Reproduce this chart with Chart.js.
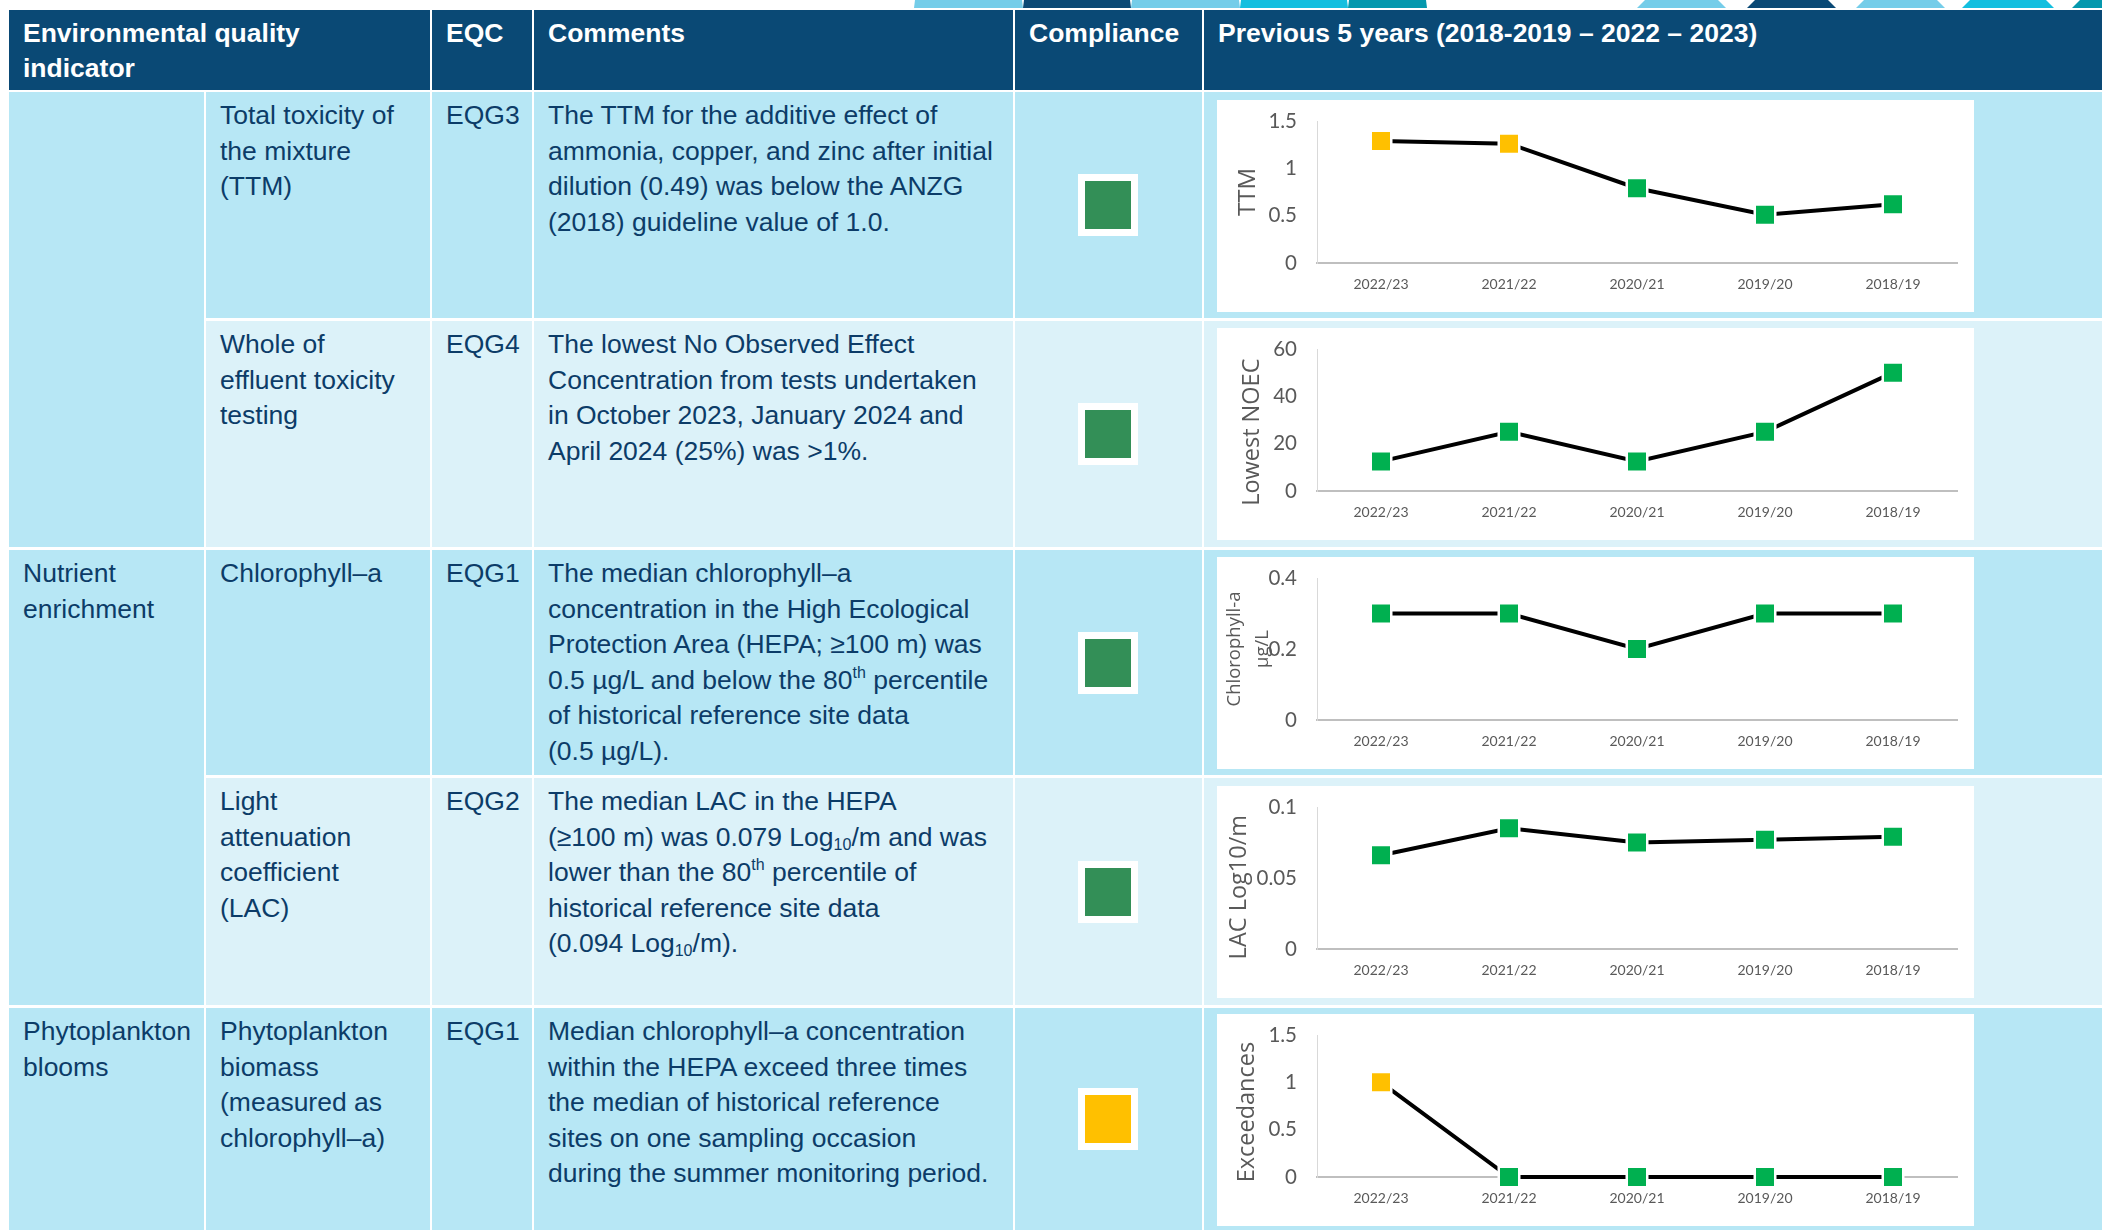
<!DOCTYPE html>
<html>
<head>
<meta charset="utf-8">
<script src="https://cdn.jsdelivr.net/npm/chart.js@4.4.1/dist/chart.umd.min.js"></script>
<style>
  body { margin: 0; background: #fff; width: 2102px; height: 1230px; overflow: hidden; position: relative; font-family: "Liberation Sans", Arial, sans-serif; }
  .deco { position: absolute; top: 0; height: 8px; }
  .cell { position: absolute; box-sizing: border-box; font-size: 26.5px; line-height: 35.5px; color: #0c3c68; white-space: nowrap; padding-top: 6px; }
  .head { background: #0a4975; color: #fff; font-weight: bold; padding-top: 6px; line-height: 35px; }
  .dark { background: #b7e7f5; }
  .light { background: #dcf2f9; }
  sup, sub { font-size: 16px; line-height: 0; }
  sup { vertical-align: 11px; }
  sub { vertical-align: -4px; }
  .mark { position: absolute; width: 60px; height: 62px; background: #fff; }
  .mark div { position: absolute; left: 7px; top: 7px; width: 46px; height: 48px; }
  .chart { position: absolute; left: 1217px; width: 757px; height: 212px; background: #fff; }
</style>
</head>
<body>
<div id="page"></div>
<script>
const years = ['2022/23', '2021/22', '2020/21', '2019/20', '2018/19']

const ttmValues = [1.29, 1.26, 0.79, 0.51, 0.62]
const ttmStatus = ['amber', 'amber', 'met', 'met', 'met']
const ttmTicks = [0, 0.5, 1, 1.5]

const noecValues = [12.5, 25, 12.5, 25, 50]
const noecStatus = ['met', 'met', 'met', 'met', 'met']
const noecTicks = [0, 20, 40, 60]

const chlaValues = [0.3, 0.3, 0.2, 0.3, 0.3]
const chlaStatus = ['met', 'met', 'met', 'met', 'met']
const chlaTicks = [0, 0.2, 0.4]

const lacValues = [0.066, 0.085, 0.075, 0.077, 0.079]
const lacStatus = ['met', 'met', 'met', 'met', 'met']
const lacTicks = [0, 0.05, 0.1]

const exceedValues = [1, 0, 0, 0, 0]
const exceedStatus = ['amber', 'met', 'met', 'met', 'met']
const exceedTicks = [0, 0.5, 1, 1.5]

const complianceStatus = ['met', 'met', 'met', 'met', 'amber']

const groups = ['', 'Nutrient<br>enrichment', 'Phytoplankton<br>blooms']
const indicators = [
  'Total toxicity of<br>the mixture<br>(TTM)',
  'Whole of<br>effluent toxicity<br>testing',
  'Chlorophyll–a',
  'Light<br>attenuation<br>coefficient<br>(LAC)',
  'Phytoplankton<br>biomass<br>(measured as<br>chlorophyll–a)'
]
const eqcs = ['EQG3', 'EQG4', 'EQG1', 'EQG2', 'EQG1']
const comments = [
  'The TTM for the additive effect of<br>ammonia, copper, and zinc after initial<br>dilution (0.49) was below the ANZG<br>(2018) guideline value of 1.0.',
  'The lowest No Observed Effect<br>Concentration from tests undertaken<br>in October 2023, January 2024 and<br>April 2024 (25%) was &gt;1%.',
  'The median chlorophyll–a<br>concentration in the High Ecological<br>Protection Area (HEPA; ≥100 m) was<br>0.5 µg/L and below the 80<sup>th</sup> percentile<br>of historical reference site data<br>(0.5 µg/L).',
  'The median LAC in the HEPA<br>(≥100 m) was 0.079 Log<sub>10</sub>/m and was<br>lower than the 80<sup>th</sup> percentile of<br>historical reference site data<br>(0.094 Log<sub>10</sub>/m).',
  'Median chlorophyll–a concentration<br>within the HEPA exceed three times<br>the median of historical reference<br>sites on one sampling occasion<br>during the summer monitoring period.'
]

const markerColour = { met: '#00b050', amber: '#ffc000' }
const boxColour = { met: '#338f57', amber: '#ffc000' }

// table geometry
const rowTop = [92, 321, 550, 778, 1008]
const rowBottom = [318, 547, 775, 1005, 1230]
const chartTop = [100, 328, 557, 786, 1014]
const cols = [[9, 204], [206, 430], [432, 532], [534, 1013], [1015, 1202], [1204, 2102]]

const page = document.getElementById('page')

function box (cls, l, t, r, b, html) {
  const d = document.createElement('div')
  d.className = cls
  d.style.left = l + 'px'
  d.style.top = t + 'px'
  d.style.width = (r - l) + 'px'
  d.style.height = (b - t) + 'px'
  if (cls.includes('cell')) d.style.paddingLeft = '14px'
  d.innerHTML = html || ''
  page.appendChild(d)
  return d
}

// strip of shapes above the header
const deco = [
  [914, 1023, '#75cde9', 1], [1023, 1131, '#0a4975', 1], [1131, 1240, '#75cde9', 1],
  [1240, 1348, '#14bfdf', 1], [1348, 1427, '#0598ad', 1],
  [1637, 1726, '#75cde9', 8], [1747, 1836, '#0a4975', 8], [1856, 1945, '#75cde9', 8],
  [1962, 2054, '#14bfdf', 8], [2072, 2110, '#0598ad', 8]
]
deco.forEach(([l, r, c, inset]) => {
  const d = box('deco', l, 0, r, 8)
  d.style.background = c
  d.style.clipPath = `polygon(${inset}px 0, calc(100% - ${inset}px) 0, 100% 100%, 0 100%)`
})

// header
box('cell head', 9, 10, 430, 90, 'Environmental quality<br>indicator')
box('cell head', 432, 10, 532, 90, 'EQC')
box('cell head', 534, 10, 1013, 90, 'Comments')
box('cell head', 1015, 10, 1202, 90, 'Compliance')
box('cell head', 1204, 10, 2102, 90, 'Previous 5 years (2018-2019 – 2022 – 2023)')

// body
const shade = ['dark', 'light', 'dark', 'light', 'dark']
box('cell dark', 9, rowTop[0], 204, rowBottom[1], groups[0])
box('cell dark', 9, rowTop[2], 204, rowBottom[3], groups[1])
box('cell dark', 9, rowTop[4], 204, rowBottom[4], groups[2])
for (let i = 0; i < 5; i++) {
  const t = rowTop[i]
  const b = rowBottom[i]
  box('cell ' + shade[i], cols[1][0], t, cols[1][1], b, indicators[i])
  box('cell ' + shade[i], cols[2][0], t, cols[2][1], b, eqcs[i])
  box('cell ' + shade[i], cols[3][0], t, cols[3][1], b, comments[i])
  box('cell ' + shade[i], cols[4][0], t, cols[4][1], b)
  box('cell ' + shade[i], cols[5][0], t, cols[5][1], b)
  const cy = Math.round((t + b) / 2)
  const m = box('mark', 1078, cy - 31, 1138, cy + 31, '<div></div>')
  m.firstChild.style.background = boxColour[complianceStatus[i]]
}

function makeChart (idx, values, status, ticks, title) {
  const holder = box('chart', 1217, chartTop[idx], 1974, chartTop[idx] + 212)
  const canvas = document.createElement('canvas')
  holder.appendChild(canvas)
  new Chart(canvas, {
    type: 'line',
    data: {
      labels: years,
      datasets: [{
        data: values,
        borderColor: '#000',
        borderWidth: 4,
        tension: 0,
        clip: false,
        pointStyle: 'rect',
        pointRadius: 14.5,
        pointHoverRadius: 14.5,
        pointBackgroundColor: status.map(s => markerColour[s]),
        pointBorderColor: '#fff',
        pointBorderWidth: 2.5
      }]
    },
    options: {
      responsive: true,
      maintainAspectRatio: false,
      animation: false,
      devicePixelRatio: 1,
      events: [],
      layout: { padding: { top: 21, right: 17, bottom: 0, left: 0 } },
      plugins: { legend: { display: false }, tooltip: { enabled: false } },
      scales: {
        x: {
          offset: true,
          grid: { display: false, drawTicks: false },
          border: { display: true, color: '#bfbfbf', width: 2 },
          ticks: { color: '#595959', padding: 13, maxRotation: 0, font: { family: 'Lato', size: 14 } },
          afterFit: s => { s.height = 49 }
        },
        y: {
          min: ticks[0],
          max: ticks[ticks.length - 1],
          afterBuildTicks: s => { s.ticks = ticks.map(v => ({ value: v })) },
          grid: { display: false, drawTicks: false },
          border: { display: true, color: '#d9d9d9', width: 1 },
          ticks: { color: '#595959', padding: 20, font: { family: 'Lato', size: 20.5 }, callback: v => String(v) },
          title: {
            display: true,
            text: title.text,
            color: '#595959',
            font: { family: 'Open Sans', size: title.size, lineHeight: title.lineHeight || 1.2 },
            padding: { top: title.pad, bottom: 0 }
          },
          afterFit: s => {
            s.width = 100
            s.paddingTop = 0
            s.paddingBottom = 0
          }
        }
      }
    }
  })
}

// trailing spaces nudge the rotated titles down, as Excel placed them
makeChart(0, ttmValues, ttmStatus, ttmTicks, { text: 'TTM', size: 24, pad: 17 })
makeChart(1, noecValues, noecStatus, noecTicks, { text: 'Lowest NOEC    ', size: 23.5, pad: 21 })
makeChart(2, chlaValues, chlaStatus, chlaTicks, { text: ['Chlorophyll-a', 'µg/L'], size: 18.5, lineHeight: 1.5, pad: 4 })
makeChart(3, lacValues, lacStatus, lacTicks, { text: 'LAC Log10/m   ', size: 23.5, pad: 8 })
makeChart(4, exceedValues, exceedStatus, exceedTicks, { text: 'Exceedances  ', size: 23.5, pad: 16 })
</script>
</body>
</html>
